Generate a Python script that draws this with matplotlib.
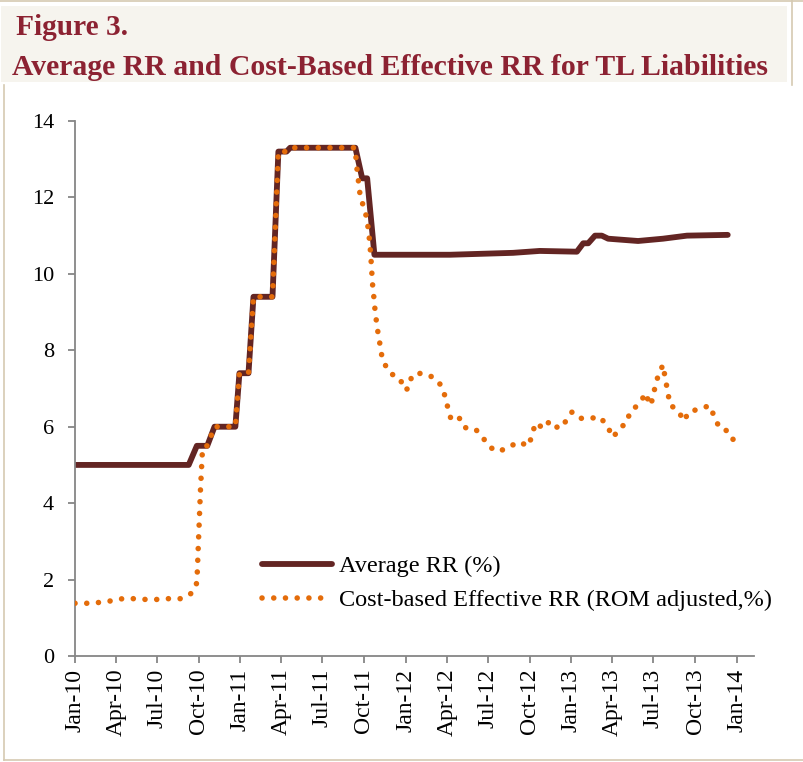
import pandas as pd
import matplotlib
matplotlib.use('Agg')
import matplotlib.pyplot as plt
import matplotlib.dates as mdates
from matplotlib.lines import Line2D
from matplotlib.patches import Rectangle

# Dados
datas_media = ['2010-01-01', '2010-09-09', '2010-09-27', '2010-10-20', '2010-11-05',
               '2010-12-21', '2010-12-30', '2011-01-19', '2011-01-30', '2011-03-13',
               '2011-03-26', '2011-04-13', '2011-04-21', '2011-09-12', '2011-09-27',
               '2011-10-08', '2011-10-24', '2012-04-08', '2012-08-25', '2012-10-23',
               '2013-01-13', '2013-01-27', '2013-02-07', '2013-02-22', '2013-03-09',
               '2013-03-23', '2013-05-28', '2013-07-22', '2013-09-13', '2013-12-12']
rr_media = [5.0, 5.0, 5.5, 5.5, 6.0,
            6.0, 7.4, 7.4, 9.4, 9.4,
            13.2, 13.2, 13.3, 13.3, 12.5,
            12.5, 10.5, 10.5, 10.55, 10.6,
            10.58, 10.8, 10.8, 11.0, 11.0,
            10.92, 10.86, 10.92, 11.0, 11.02]

datas_efetivo = ['2010-01-01', '2010-01-29', '2010-02-22', '2010-03-20', '2010-04-16',
                 '2010-05-10', '2010-06-06', '2010-07-02', '2010-07-26', '2010-08-22',
                 '2010-09-15', '2010-09-26', '2010-09-28', '2010-10-05', '2010-10-09',
                 '2010-10-14', '2010-10-20', '2010-11-05', '2010-12-21', '2010-12-30',
                 '2011-01-19', '2011-01-30', '2011-03-13', '2011-03-26', '2011-04-13',
                 '2011-04-21', '2011-09-12', '2011-09-14', '2011-09-17', '2011-09-20',
                 '2011-09-23', '2011-10-02', '2011-10-08', '2011-10-11', '2011-10-14',
                 '2011-10-16', '2011-10-18', '2011-10-19', '2011-10-22', '2011-10-24',
                 '2011-10-27', '2011-10-30', '2011-11-04', '2011-11-07', '2011-11-15',
                 '2011-11-28', '2011-12-20', '2011-12-29', '2012-01-07', '2012-01-15',
                 '2012-02-04', '2012-03-01', '2012-03-18', '2012-03-28', '2012-04-03',
                 '2012-04-10', '2012-04-27', '2012-05-09', '2012-06-03', '2012-06-20',
                 '2012-07-07', '2012-07-23', '2012-08-14', '2012-09-05', '2012-09-29',
                 '2012-10-06', '2012-10-14', '2012-11-01', '2012-11-14', '2012-12-04',
                 '2012-12-18', '2013-01-02', '2013-01-18', '2013-02-10', '2013-03-06',
                 '2013-03-23', '2013-04-03', '2013-04-17', '2013-05-03', '2013-05-10',
                 '2013-05-23', '2013-06-04', '2013-06-14', '2013-06-23', '2013-06-30',
                 '2013-07-04', '2013-07-11', '2013-07-22', '2013-07-28', '2013-08-02',
                 '2013-08-06', '2013-08-24', '2013-09-07', '2013-09-16', '2013-10-08',
                 '2013-11-02', '2013-11-13', '2013-11-24', '2013-12-14', '2013-12-26']
rr_efetivo = [1.38, 1.38, 1.40, 1.44, 1.50,
              1.50, 1.48, 1.48, 1.50, 1.50,
              1.64, 1.88, 2.2, 4.35, 5.3,
              5.5, 5.5, 6.0, 6.0, 7.4,
              7.4, 9.4, 9.4, 13.2, 13.2,
              13.3, 13.3, 12.9, 12.6, 12.3,
              12.0, 11.7, 11.4, 11.1, 10.8,
              10.45, 10.13, 9.82, 9.5, 9.2,
              8.9, 8.59, 8.27, 7.96, 7.65,
              7.4, 7.25, 6.96, 7.0, 7.35,
              7.4, 7.3, 7.1, 6.8, 6.5,
              6.2, 6.26, 5.98, 5.94, 5.7,
              5.45, 5.35, 5.45, 5.6, 5.5,
              5.8, 6.1, 5.95, 6.15, 5.95,
              6.12, 6.38, 6.22, 6.22, 6.25,
              5.97, 5.72, 5.96, 6.1, 6.38,
              6.52, 6.68, 6.88, 6.56, 6.74,
              7.02, 7.32, 7.62, 7.2, 6.9,
              6.58, 6.42, 6.15, 6.38, 6.46,
              6.55, 6.25, 5.96, 5.88, 5.62]

rotulos = ['Average RR (%)', 'Cost-based Effective RR (ROM adjusted,%)']
titulo1 = 'Figure 3.'
titulo2 = 'Average RR and Cost-Based Effective RR for TL Liabilities'

# Cores
cor_media = '#632523'
cor_efetivo = '#E46C0A'
cor_titulo = '#8C2232'
cor_eixo = '#868686'
cor_borda = '#D5CAB2'

plt.rcParams['font.family'] = ['Liberation Serif', 'DejaVu Serif']

W, H = 804, 762
fig = plt.figure(figsize=(W / 100, H / 100), dpi=100)
fig.patch.set_facecolor('white')

# Caixa do título e bordas
fig.add_artist(Rectangle((1 / W, 1 - 82 / H), 786 / W, 76 / H, transform=fig.transFigure,
                         facecolor='#F6F4EE', edgecolor='none', zorder=0))
borda = dict(color=cor_borda, lw=1.2, transform=fig.transFigure)
fig.add_artist(Line2D([0, 1], [1 - 1 / H, 1 - 1 / H], **borda))
fig.add_artist(Line2D([792 / W, 792 / W], [1, 1 - 85 / H], **borda))
fig.add_artist(Line2D([4 / W, 4 / W], [1 - 85 / H, 1 - 760 / H], **borda))
fig.add_artist(Line2D([4 / W, 1], [1 - 760 / H, 1 - 760 / H], **borda))

fig.text(16 / W, 1 - 35 / H, titulo1, fontsize=21.2, fontweight='bold', color=cor_titulo,
         ha='left', va='baseline')
fig.text(12 / W, 1 - 75 / H, titulo2, fontsize=21.4, fontweight='bold', color=cor_titulo,
         ha='left', va='baseline')

ax = fig.add_axes([75 / W, 1 - 656 / H, (754 - 75) / W, (656 - 121) / H])
ax.set_facecolor('white')

x_media = pd.to_datetime(datas_media)
x_efetivo = pd.to_datetime(datas_efetivo)

ax.plot(x_media, rr_media, color=cor_media, lw=4.2, solid_joinstyle='round',
        solid_capstyle='round', label=rotulos[0], zorder=2)
ax.plot(x_efetivo, rr_efetivo, color=cor_efetivo, lw=4.0, linestyle=(0, (0.01, 2.1)),
        dash_capstyle='round', label=rotulos[1], zorder=3)

ax.set_ylim(0, 14)
ax.set_yticks(range(0, 15, 2))
ax.set_xlim(pd.Timestamp('2010-01-01'), pd.Timestamp('2014-02-08'))
ax.xaxis.set_major_locator(mdates.MonthLocator(bymonth=[1, 4, 7, 10]))
ax.xaxis.set_major_formatter(mdates.DateFormatter('%b-%y'))

for lado in ['top', 'right']:
    ax.spines[lado].set_visible(False)
for lado in ['left', 'bottom']:
    ax.spines[lado].set_color(cor_eixo)
    ax.spines[lado].set_linewidth(1.3)

ax.tick_params(axis='y', direction='out', length=5, width=1.3, color=cor_eixo,
               labelsize=16, pad=10)
ax.tick_params(axis='x', direction='out', length=5, width=1.3, color=cor_eixo,
               labelsize=17, pad=4, labelrotation=90)

ax.legend(loc='upper left', bbox_to_anchor=(262 / W, 1 - 555 / H),
          bbox_transform=fig.transFigure, frameon=False, fontsize=17.5,
          handlelength=2.9, handletextpad=0.25, labelspacing=0.5,
          borderpad=0, borderaxespad=0)

fig.savefig('out.png', dpi=100)
